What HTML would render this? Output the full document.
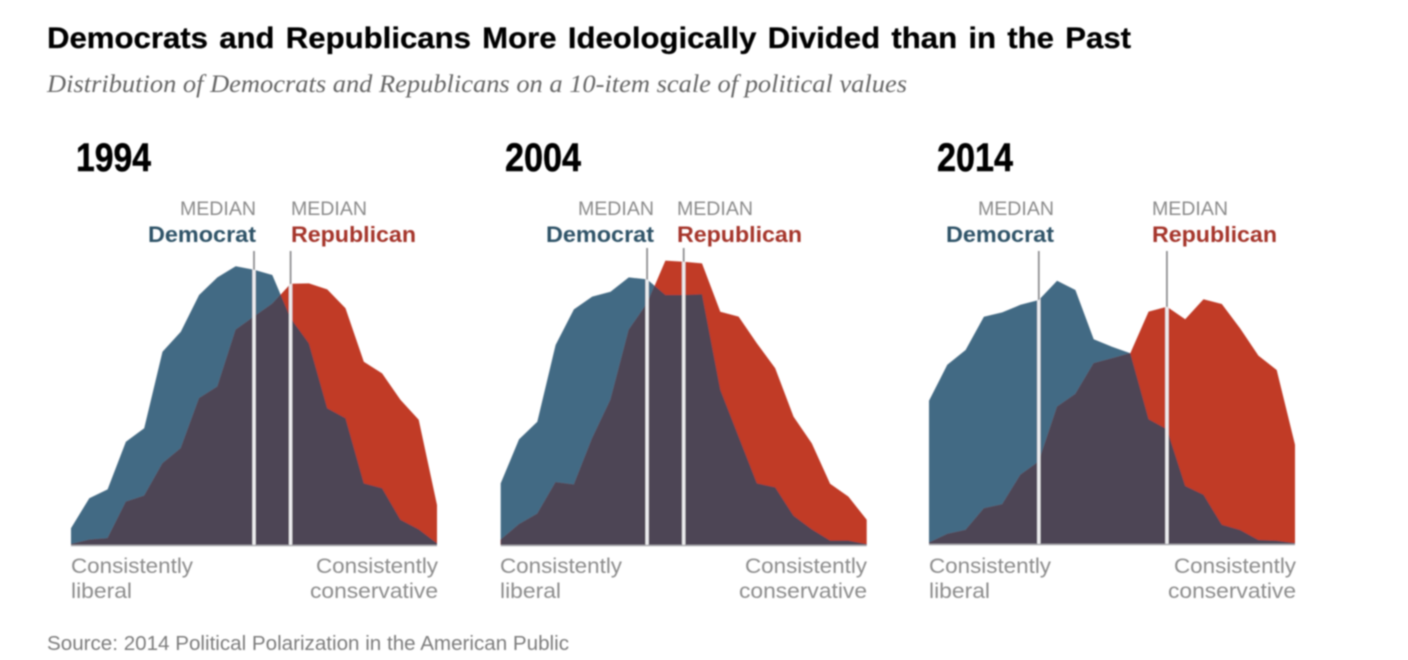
<!DOCTYPE html>
<html lang="en">
<head>
<meta charset="utf-8">
<title>Democrats and Republicans More Ideologically Divided than in the Past</title>
<style>
html,body{margin:0;padding:0;background:#fff;width:1408px;height:660px;overflow:hidden}
svg{display:block}
text{font-family:"Liberation Sans",sans-serif}
.title{font-weight:700;font-size:30px;fill:#050505;word-spacing:2.5px;stroke:#050505;stroke-width:.25px}
.sub{font-family:"Liberation Serif",serif;font-style:italic;font-size:25px;fill:#666}
.year{font-weight:700;font-size:40px;fill:#050505;stroke:#050505;stroke-width:.5px}
.med{font-size:19px;fill:#8a8a8a}
.dem{font-weight:700;font-size:22px;fill:#2f5268}
.rep{font-weight:700;font-size:22px;fill:#a5352a}
.lab{font-size:21px;fill:#8c8c8c}
.src{font-size:20px;fill:#7d7d7d}
</style>
</head>
<body>
<svg id="chart" width="1408" height="660" viewBox="0 0 1408 660" xmlns="http://www.w3.org/2000/svg">
<defs><filter id="soft" x="-2%" y="-2%" width="104%" height="104%"><feGaussianBlur stdDeviation="0.7"/></filter></defs>
<g id="root" filter="url(#soft)">
<text class="title" x="47" y="48" textLength="1084" lengthAdjust="spacingAndGlyphs">Democrats and Republicans More Ideologically Divided than in the Past</text>
<text class="sub" x="47" y="92" textLength="860" lengthAdjust="spacingAndGlyphs">Distribution of Democrats and Republicans on a 10-item scale of political values</text>

<text class="year" x="76" y="171" textLength="75" lengthAdjust="spacingAndGlyphs">1994</text>
<text class="year" x="505" y="171" textLength="76" lengthAdjust="spacingAndGlyphs">2004</text>
<text class="year" x="937" y="171" textLength="76" lengthAdjust="spacingAndGlyphs">2014</text>

<g id="panels"></g>

<g>
<text class="med" x="180" y="215" textLength="76" lengthAdjust="spacingAndGlyphs">MEDIAN</text>
<text class="dem" x="148" y="242" textLength="108" lengthAdjust="spacingAndGlyphs">Democrat</text>
<text class="med" x="291" y="215" textLength="76" lengthAdjust="spacingAndGlyphs">MEDIAN</text>
<text class="rep" x="291" y="242" textLength="125" lengthAdjust="spacingAndGlyphs">Republican</text>
<text class="lab" x="71" y="573" textLength="122" lengthAdjust="spacingAndGlyphs">Consistently</text>
<text class="lab" x="71" y="598" textLength="61" lengthAdjust="spacingAndGlyphs">liberal</text>
<text class="lab" x="316" y="573" textLength="122" lengthAdjust="spacingAndGlyphs">Consistently</text>
<text class="lab" x="310" y="598" textLength="128" lengthAdjust="spacingAndGlyphs">conservative</text>
</g>
<g>
<text class="med" x="578" y="215" textLength="76" lengthAdjust="spacingAndGlyphs">MEDIAN</text>
<text class="dem" x="546" y="242" textLength="108" lengthAdjust="spacingAndGlyphs">Democrat</text>
<text class="med" x="677" y="215" textLength="76" lengthAdjust="spacingAndGlyphs">MEDIAN</text>
<text class="rep" x="677" y="242" textLength="125" lengthAdjust="spacingAndGlyphs">Republican</text>
<text class="lab" x="500" y="573" textLength="122" lengthAdjust="spacingAndGlyphs">Consistently</text>
<text class="lab" x="500" y="598" textLength="61" lengthAdjust="spacingAndGlyphs">liberal</text>
<text class="lab" x="745" y="573" textLength="122" lengthAdjust="spacingAndGlyphs">Consistently</text>
<text class="lab" x="739" y="598" textLength="128" lengthAdjust="spacingAndGlyphs">conservative</text>
</g>
<g>
<text class="med" x="978" y="215" textLength="76" lengthAdjust="spacingAndGlyphs">MEDIAN</text>
<text class="dem" x="946" y="242" textLength="108" lengthAdjust="spacingAndGlyphs">Democrat</text>
<text class="med" x="1152" y="215" textLength="76" lengthAdjust="spacingAndGlyphs">MEDIAN</text>
<text class="rep" x="1152" y="242" textLength="125" lengthAdjust="spacingAndGlyphs">Republican</text>
<text class="lab" x="929" y="573" textLength="122" lengthAdjust="spacingAndGlyphs">Consistently</text>
<text class="lab" x="929" y="598" textLength="61" lengthAdjust="spacingAndGlyphs">liberal</text>
<text class="lab" x="1174" y="573" textLength="122" lengthAdjust="spacingAndGlyphs">Consistently</text>
<text class="lab" x="1168" y="598" textLength="128" lengthAdjust="spacingAndGlyphs">conservative</text>
</g>

<text class="src" x="47" y="650" textLength="522" lengthAdjust="spacingAndGlyphs">Source: 2014 Political Polarization in the American Public</text>
</g>
</svg>
<script>
// Share of partisans (percent, estimated) at each position on the scale
const scalePositions = [0,1,2,3,4,5,6,7,8,9,10,11,12,13,14,15,16,17,18,19,20];
const years = ['1994','2004','2014'];
const dem1994 = [0.42,1.17,1.39,2.58,2.92,4.83,5.33,6.25,6.69,6.97,6.88,6.75,5.67,5.04,3.42,3.17,1.54,1.42,0.63,0.39,0.04];
const rep1994 = [0.02,0.13,0.17,1.08,1.23,2.04,2.42,3.67,3.96,5.38,5.71,6.03,6.53,6.54,6.39,5.92,4.58,4.29,3.63,3.13,1.00];
const dem2004 = [1.54,2.64,3.08,5.00,5.89,6.21,6.33,6.69,6.64,6.25,6.25,6.27,3.88,2.71,1.54,1.44,0.73,0.39,0.11,0.11,0.02];
const rep2004 = [0.13,0.52,0.78,1.57,1.51,2.67,3.63,5.38,6.04,7.11,7.08,7.04,5.83,5.71,5.04,4.42,3.21,2.54,1.53,1.21,0.63];
const dem2014 = [3.58,4.48,4.85,5.68,5.79,5.98,6.10,6.58,6.35,5.12,4.93,4.77,3.12,2.87,1.45,1.23,0.48,0.35,0.10,0.08,0.02];
const rep2014 = [0.03,0.25,0.35,0.89,0.99,1.73,2.06,3.43,3.75,4.52,4.64,4.77,5.81,5.93,5.62,6.12,6.00,5.39,4.71,4.35,2.48];
const demSeries = [dem1994,dem2004,dem2014];
const repSeries = [rep1994,rep2004,rep2014];
const demMedians = [10,8,6];
const repMedians = [12,10,13];

const NS = 'http://www.w3.org/2000/svg';
const panelLeft = [71,500.7,929];
const panelBase = [545,545,544];
const panelWidth = 366;
const pxPerPercent = 40;
const medianTop = [251,248,251];

function make(tag, attrs, parent){
  const el = document.createElementNS(NS, tag);
  for (const k in attrs) el.setAttribute(k, attrs[k]);
  parent.appendChild(el);
  return el;
}

const host = document.getElementById('panels');
const defs = document.querySelector('defs');

years.forEach(function(year, p){
  const xScale = function(pos){
    return panelLeft[p] + pos / (scalePositions.length - 1) * panelWidth;
  };
  const yScale = function(v){
    return panelBase[p] - v * pxPerPercent;
  };
  const areaPoints = function(vals){
    const pts = scalePositions.map(function(pos, i){
      return xScale(pos).toFixed(2) + ',' + yScale(vals[i]).toFixed(2);
    });
    pts.unshift(xScale(scalePositions[0]).toFixed(2) + ',' + panelBase[p]);
    pts.push(xScale(scalePositions[scalePositions.length - 1]).toFixed(2) + ',' + panelBase[p]);
    return pts.join(' ');
  };
  const demPts = areaPoints(demSeries[p]);
  const repPts = areaPoints(repSeries[p]);

  const clipRep = make('clipPath', {id: 'clip-rep-' + year}, defs);
  make('polygon', {points: repPts}, clipRep);
  const clipUnion = make('clipPath', {id: 'clip-union-' + year}, defs);
  make('polygon', {points: repPts}, clipUnion);
  make('polygon', {points: demPts}, clipUnion);

  const g = make('g', {}, host);
  
  

  [demMedians[p], repMedians[p]].forEach(function(m){
    const stem = make('line', {x1: xScale(m), x2: xScale(m), y1: medianTop[p], y2: panelBase[p], stroke: '#8f8f92', 'stroke-width': 1.8}, g);
    
    
  });

  const demArea = make('polygon', {points: demPts, fill: '#436a84'}, g);
  
  

  const repArea = make('polygon', {points: repPts, fill: '#c13a26'}, g);
  
  

  const overlap = make('polygon', {points: demPts, fill: '#4d4455', 'clip-path': 'url(#clip-rep-' + year + ')'}, g);
  
  

  const whiteGroup = make('g', {'clip-path': 'url(#clip-union-' + year + ')'}, g);
  [demMedians[p], repMedians[p]].forEach(function(m){
    const line = make('line', {x1: xScale(m), x2: xScale(m), y1: medianTop[p], y2: panelBase[p], stroke: '#eeeef0', 'stroke-width': 3.2}, whiteGroup);
    
    
  });

  const axis = make('line', {x1: panelLeft[p], x2: panelLeft[p] + panelWidth, y1: panelBase[p] + 0.5, y2: panelBase[p] + 0.5, stroke: '#a9a9ad', 'stroke-width': 1.4}, g);
  
  
});
</script>
</body>
</html>
